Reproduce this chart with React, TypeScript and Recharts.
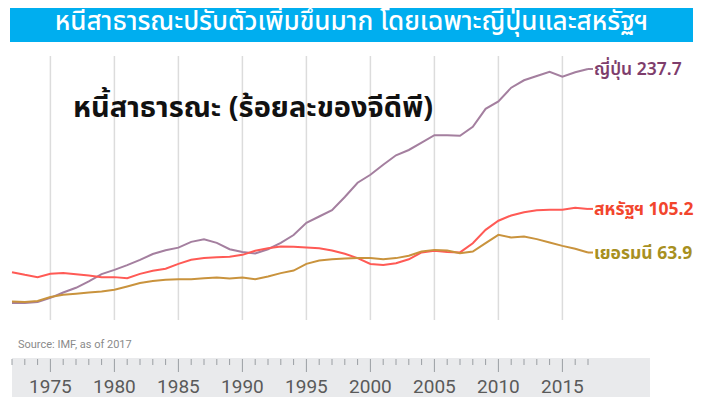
import React from 'react';
import { LineChart, Line, XAxis, YAxis, ReferenceLine } from 'recharts';

const years = [
  1972, 1973, 1974, 1975, 1976, 1977, 1978, 1979, 1980, 1981,
  1982, 1983, 1984, 1985, 1986, 1987, 1988, 1989, 1990, 1991,
  1992, 1993, 1994, 1995, 1996, 1997, 1998, 1999, 2000, 2001,
  2002, 2003, 2004, 2005, 2006, 2007, 2008, 2009, 2010, 2011,
  2012, 2013, 2014, 2015, 2016, 2017,
];

const japan = [
  16, 16, 17, 21, 26, 30.5, 36.5, 43.5, 47.5, 52,
  57, 62.5, 66, 68.5, 74, 76.5, 73, 67, 64.3, 63,
  67, 73, 80.5, 92, 98, 104, 116.5, 130, 137.5, 147,
  156, 161, 168, 175, 175, 174.5, 183, 200, 207, 220,
  227, 231, 235, 230.5, 234.6, 237.7,
];

const usa = [
  45.3, 42.8, 40.6, 43.7, 44.4, 43.4, 42.1, 40.6, 40.6, 39.6,
  43.7, 46.6, 48.5, 53.2, 57, 58.6, 59.5, 60, 61.7, 65.5,
  68, 69.6, 69.3, 68.6, 68, 65.8, 62.7, 58.6, 53, 52.2,
  53.8, 57.5, 64, 65.5, 64.5, 64, 72.7, 85.4, 94, 99,
  102, 104, 104.3, 104.3, 106.2, 105.2,
];

const germany = [
  17.5, 17, 18, 21.7, 23.8, 24.8, 26, 27, 28.6, 31.7,
  35, 37, 38, 38.7, 38.7, 39.6, 40.2, 39.3, 40.2, 38.7,
  41.2, 44.4, 46.8, 53.2, 56.3, 57.6, 58.2, 58.6, 58.6, 57.6,
  58.6, 60.8, 64.8, 66.4, 65.8, 63.3, 64.8, 72.8, 80.6, 78.1,
  79, 76.6, 73.4, 70.2, 67.4, 63.9,
];

const gridYears = [1975, 1980, 1985, 1990, 1995, 2000, 2005, 2010, 2015];

const title = 'หนี้สาธารณะปรับตัวเพิ่มขึ้นมาก โดยเฉพาะญี่ปุ่นและสหรัฐฯ';
const subtitle = 'หนี้สาธารณะ (ร้อยละของจีดีพี)';
const source = 'Source: IMF, as of 2017';

const series = [
  { key: 'japan', name: 'ญี่ปุ่น', values: japan, stroke: '#a47f9f', labelColor: '#7e3d6c', weight: 600 },
  { key: 'usa', name: 'สหรัฐฯ', values: usa, stroke: '#ff5a55', labelColor: '#f2452d', weight: 700 },
  { key: 'germany', name: 'เยอรมนี', values: germany, stroke: '#c9933d', labelColor: '#a8901f', weight: 700 },
];

const data = years.map((year, i) => ({
  year,
  japan: japan[i],
  usa: usa[i],
  germany: germany[i],
}));

const FONT = '"Noto Sans Thai", Tahoma, "Noto Sans", "DejaVu Sans", sans-serif';

const AxisTick = (props: any) => {
  const { x, y, payload } = props;
  const major = payload.value % 5 === 0;
  return (
    <g>
      <line x1={x} x2={x} y1={y + 39} y2={major ? y + 52 : y + 45} stroke="#9a9ea3" strokeWidth={1} />
      {major && (
        <text x={x} y={y + 73} textAnchor="middle" fill="#5a5a5a" fontSize={19} fontFamily="Roboto, 'Noto Sans', sans-serif">
          {payload.value}
        </text>
      )}
    </g>
  );
};

const makeEndLabel = (s: typeof series[number]) => (props: any) => {
  const { x, y, index } = props;
  if (index !== years.length - 1) return null;
  const last = s.values[s.values.length - 1];
  return (
    <g>
      <line x1={x} x2={x + 5} y1={y} y2={y} stroke={s.stroke} strokeWidth={2} />
      <text x={x + 6} y={y} dy={6} fill={s.labelColor} fontSize={17.5} fontWeight={s.weight} fontFamily={FONT}>
        {s.name} {last}
      </text>
    </g>
  );
};

export default function App() {
  return (
    <div style={{ position: 'relative', width: 704, height: 405, margin: -8, background: '#fff', overflow: 'hidden', fontFamily: FONT }}>
      <div
        style={{
          position: 'absolute', left: 10, top: 0, width: 683, height: 42, background: '#00aeef',
          color: '#fff', fontSize: 26, fontWeight: 500, lineHeight: '44px', textAlign: 'center', whiteSpace: 'nowrap',
          overflow: 'hidden',
        }}
      >
        {title}
      </div>
      <div style={{ position: 'absolute', left: 12, top: 358, width: 638, height: 47, background: '#e9eaec' }} />
      <div style={{ position: 'absolute', left: 18, top: 338, fontSize: 11, color: '#8a8a8a', fontFamily: 'Roboto, sans-serif' }}>
        {source}
      </div>
      <div style={{ position: 'absolute', left: 0, top: 0 }}>
        <LineChart width={704} height={405} data={data} margin={{ top: 56, right: 116, bottom: 0, left: 12 }}>
          <XAxis
            dataKey="year"
            type="number"
            domain={[1972, 2017]}
            ticks={years}
            interval={0}
            axisLine={false}
            tickLine={false}
            tickSize={0}
            tickMargin={0}
            height={85}
            tick={<AxisTick />}
          />
          <YAxis hide domain={[0, 250]} />
          {gridYears.map((g) => (
            <ReferenceLine key={g} x={g} stroke="#dcdcdc" strokeWidth={1.5} />
          ))}
          {series.map((s) => (
            <Line
              key={s.key}
              dataKey={s.key}
              stroke={s.stroke}
              strokeWidth={2}
              dot={false}
              isAnimationActive={false}
              label={makeEndLabel(s)}
            />
          ))}
        </LineChart>
      </div>
      <div style={{ position: 'absolute', left: 73, top: 86, fontSize: 29, fontWeight: 700, color: '#111', whiteSpace: 'nowrap' }}>
        {subtitle}
      </div>
    </div>
  );
}
